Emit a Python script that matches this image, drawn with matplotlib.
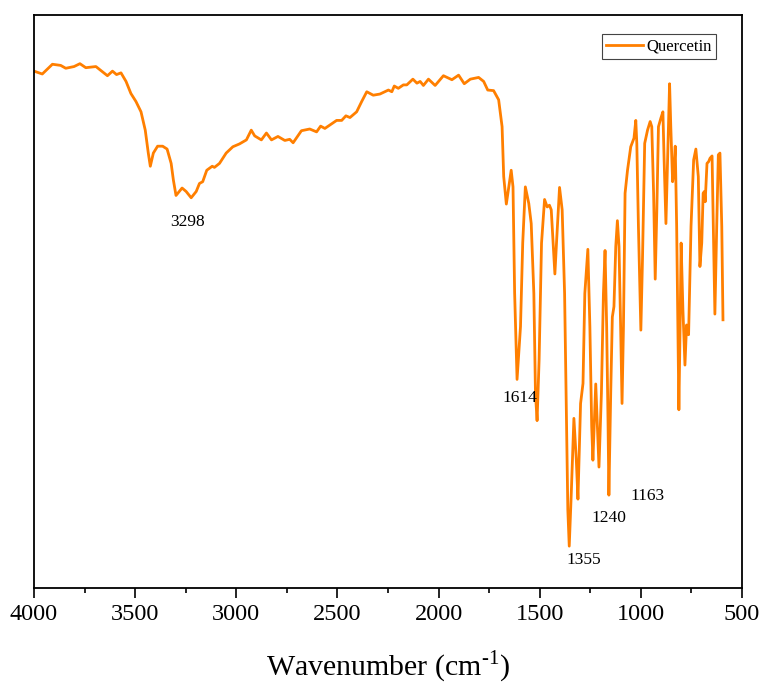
import matplotlib
matplotlib.use('Agg')
import matplotlib.pyplot as plt
from matplotlib.ticker import MultipleLocator

plt.rcParams['font.family'] = ['Liberation Serif', 'DejaVu Serif']
plt.rcParams['mathtext.fontset'] = 'custom'
plt.rcParams['mathtext.rm'] = 'Liberation Serif'

# FTIR spectrum of quercetin
wavenumber = [4000, 3959, 3909, 3868, 3843, 3802, 3773, 3744, 3694, 3637, 3612, 3592, 3570, 3545,
              3521, 3496, 3471, 3450, 3435, 3425, 3410, 3389, 3364, 3342, 3322, 3311, 3298, 3268,
              3248, 3223, 3198, 3182, 3166, 3146, 3119, 3108, 3083, 3050, 3017, 2984, 2950, 2926,
              2909, 2876, 2851, 2826, 2794, 2760, 2736, 2719, 2678, 2637, 2603, 2583, 2562, 2504,
              2479, 2458, 2438, 2405, 2380, 2355, 2323, 2290, 2248, 2231, 2219, 2199, 2174, 2157,
              2127, 2107, 2091, 2075, 2050, 2017, 1976, 1934, 1901, 1873, 1843, 1802, 1777, 1757,
              1728, 1703, 1686, 1678, 1665, 1641, 1632, 1624, 1612, 1595, 1584, 1571, 1554, 1542,
              1529, 1521, 1513, 1503, 1491, 1476, 1463, 1452, 1443, 1433, 1425, 1417, 1402, 1389,
              1377, 1367, 1361, 1354, 1344, 1331, 1319, 1311, 1298, 1286, 1277, 1262, 1252, 1243,
              1237, 1223, 1215, 1207, 1195, 1185, 1177, 1169, 1162, 1158, 1149, 1141, 1133, 1124,
              1116, 1108, 1100, 1093, 1086, 1078, 1066, 1050, 1034, 1025, 1020, 1012, 1000, 992,
              981, 967, 954, 946, 937, 929, 921, 913, 901, 891, 885, 876, 868, 858, 852, 843, 837,
              830, 823, 817, 812, 806, 801, 792, 782, 774, 764, 752, 739, 728, 716, 708, 699, 692,
              686, 682, 673, 665, 658, 648, 642, 634, 625, 617, 609, 600, 594]
transmittance = [90.2, 89.7, 91.4, 91.2, 90.7, 91.0, 91.5, 90.8, 91.0, 89.4, 90.2, 89.6, 89.9, 88.4,
                 86.3, 84.9, 83.1, 79.9, 75.9, 73.6, 75.9, 77.1, 77.1, 76.6, 74.1, 71.2, 68.5, 69.8,
                 69.2, 68.1, 69.2, 70.6, 70.9, 72.9, 73.6, 73.4, 74.1, 75.9, 77.0, 77.5, 78.2, 79.9,
                 78.9, 78.2, 79.4, 78.2, 78.8, 78.1, 78.3, 77.7, 79.8, 80.1, 79.6, 80.6, 80.2, 81.6,
                 81.6, 82.4, 82.1, 83.1, 84.9, 86.6, 86.0, 86.2, 86.9, 86.6, 87.6, 87.2, 87.8, 87.8,
                 88.8, 88.1, 88.4, 87.7, 88.8, 87.7, 89.4, 88.7, 89.5, 88.0, 88.8, 89.1, 88.4, 86.9,
                 86.8, 85.2, 80.5, 71.8, 67.0, 72.9, 70.0, 51.5, 36.4, 45.6, 60.2, 70.0, 67.1, 63.6,
                 51.4, 34.0, 29.2, 39.8, 60.2, 67.8, 66.5, 66.8, 66.0, 59.6, 54.8, 60.2, 69.9, 66.0,
                 51.4, 28.2, 13.6, 7.3, 16.5, 29.6, 22.3, 15.5, 32.2, 35.7, 51.4, 59.1, 45.6, 28.2,
                 22.3, 35.6, 28.2, 21.1, 34.0, 51.4, 58.9, 45.6, 28.2, 16.2, 34.0, 47.3, 49.1, 59.6,
                 64.1, 59.6, 45.6, 32.2, 45.6, 68.9, 72.9, 77.0, 78.5, 81.6, 77.6, 63.1, 45.0, 57.2,
                 77.6, 79.9, 81.4, 80.5, 68.9, 53.9, 66.0, 80.5, 82.0, 83.1, 74.7, 63.6, 74.7, 88.0,
                 80.5, 70.9, 72.4, 77.1, 63.1, 45.6, 31.1, 45.6, 60.2, 48.5, 38.9, 45.9, 44.2, 63.1,
                 74.7, 76.6, 71.8, 56.1, 60.2, 68.9, 69.2, 67.4, 74.1, 74.4, 75.0, 75.4, 63.1, 47.8,
                 63.1, 75.6, 75.9, 63.1, 46.8]

# peak labels: text, x, y
peak_labels = ['3298', '1614', '1355', '1240', '1163']
peak_x = [3241, 1600, 1283, 1159, 966]
peak_y = [63.9, 33.2, 4.9, 12.2, 16.1]

fig = plt.figure(figsize=(7.64, 6.84), dpi=100)
ax = fig.add_axes([0.0445, 0.1404, 0.9267, 0.8377])

ax.plot(wavenumber, transmittance, color='#FF7F00', linewidth=2.0, label='Quercetin')

for t, x, y in zip(peak_labels, peak_x, peak_y):
    ax.text(x, y, t, fontsize=12.5, ha='center', va='center')

ax.set_xlim(4000, 500)
ax.set_ylim(0, 100)
ax.xaxis.set_major_locator(MultipleLocator(500))
ax.xaxis.set_minor_locator(MultipleLocator(250))
ax.tick_params(axis='x', which='major', direction='out', length=7.5, width=1.2, labelsize=17.5, pad=4)
ax.tick_params(axis='x', which='minor', direction='out', length=3.5, width=1.2)
ax.set_yticks([])
for s in ax.spines.values():
    s.set_linewidth(1.3)

ax.set_xlabel('Wavenumber (cm$^{\\mathregular{\u20101}}$)', fontsize=21.5, labelpad=17)

leg = ax.legend(loc='upper right', bbox_to_anchor=(0.963, 0.966), fontsize=12,
                handlelength=2.2, handletextpad=0.2, borderpad=0.25, borderaxespad=0,
                fancybox=False, framealpha=1)
leg.get_frame().set_edgecolor('#444444')
leg.get_frame().set_linewidth(0.8)

fig.savefig('out.png', dpi=100)
